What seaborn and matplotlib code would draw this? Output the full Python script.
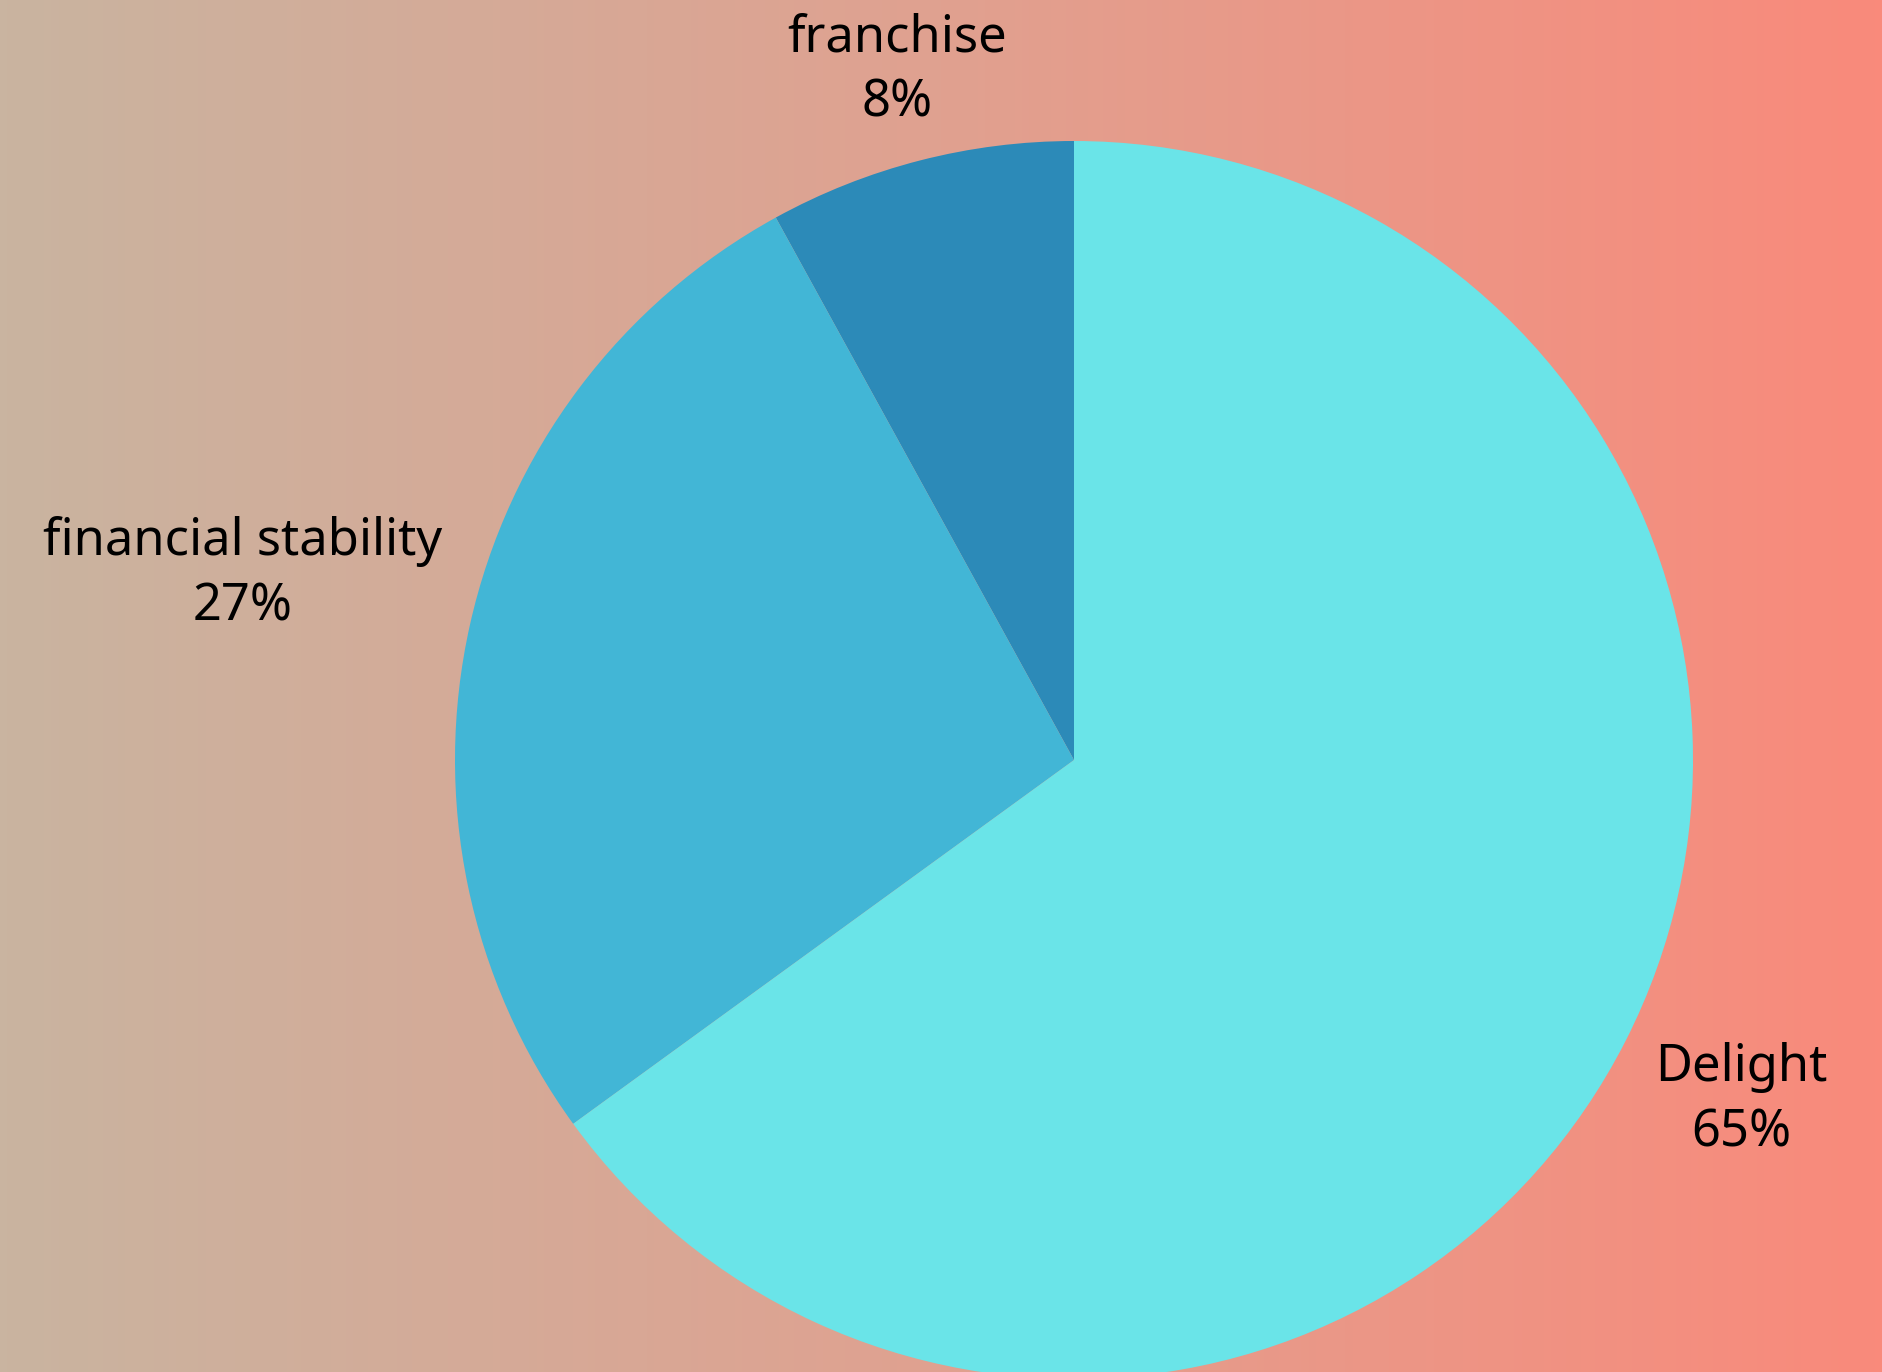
import numpy as np
import matplotlib
matplotlib.use("Agg")
import matplotlib.pyplot as plt
import seaborn as sns
from matplotlib.colors import LinearSegmentedColormap

# data
categories = ["franchise", "financial stability", "Delight"]
shares = [8, 27, 65]
slice_colors = ["#2C8AB8", "#42B6D6", "#6AE4E8"]

sns.set_theme(style="white")
plt.rcParams['font.family'] = ['Noto Sans', 'DejaVu Sans']

W, H, DPI = 1882, 1372, 100
fig = plt.figure(figsize=(W / DPI, H / DPI), dpi=DPI)

# gradient background
bg = fig.add_axes([0, 0, 1, 1])
cmap = LinearSegmentedColormap.from_list("bg", ["#C9B4A0", "#E0A190", "#F98A7B"])
grad = np.linspace(0, 1, 512).reshape(1, -1)
bg.imshow(grad, aspect="auto", cmap=cmap, extent=[0, 1, 0, 1])
bg.set_axis_off()

# pie axes: center (1074,760) px, radius 619 px
cx, cy, R = 1074, 760, 619
ax = fig.add_axes([(cx - R) / W, (H - cy - R) / H, 2 * R / W, 2 * R / H])
ax.set_axis_off()
palette = sns.color_palette(slice_colors)
wedges, _ = ax.pie(shares, colors=palette, startangle=90, counterclock=True,
                   radius=1, wedgeprops=dict(linewidth=0))
ax.set_xlim(-1, 1)
ax.set_ylim(-1, 1)
ax.set_aspect("equal")

label_dist = [1.15, 1.377, 1.21]
total = sum(shares)
start = 90.0
for cat, val, d in zip(categories, shares, label_dist):
    span = 360.0 * val / total
    mid = np.deg2rad(start + span / 2)
    start += span
    ax.text(d * np.cos(mid), d * np.sin(mid), f"{cat}\n{val}%", ha="center",
            va="center", fontsize=36.5, color="black", linespacing=1.38,
            clip_on=False)

fig.savefig("out.png", dpi=DPI)
